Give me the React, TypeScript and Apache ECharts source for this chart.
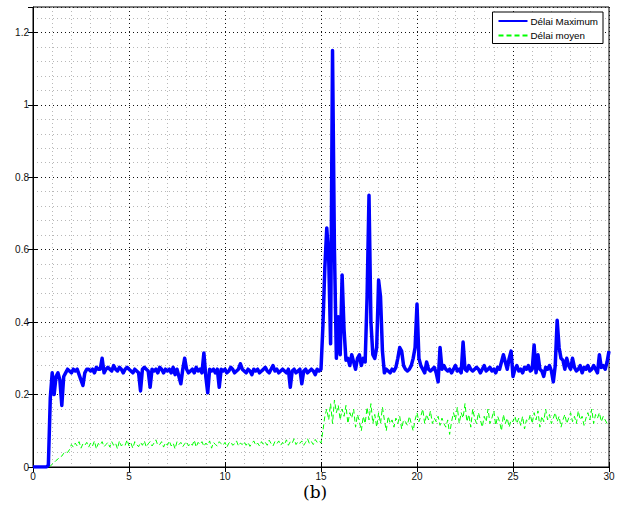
import React, { useEffect, useRef } from "react";
import * as echarts from "echarts";

// sampling step of the recorded series (seconds)
const STEP = 0.1;

const xTicks = [0, 5, 10, 15, 20, 25, 30];
const yTicks = [0, 0.2, 0.4, 0.6, 0.8, 1, 1.2];

// Délai Maximum, one row per second (x = 0.0 .. 29.9), plus final value at 30
const delaiMax: number[] = [
  0, 0, 0, 0, 0, 0, 0, 0, 0.005, 0.19,
  0.26, 0.2, 0.25, 0.26, 0.24, 0.17, 0.25, 0.26, 0.27, 0.265,
  0.26, 0.27, 0.265, 0.27, 0.255, 0.24, 0.225, 0.26, 0.27, 0.27,
  0.265, 0.27, 0.26, 0.275, 0.27, 0.27, 0.3, 0.26, 0.27, 0.275,
  0.27, 0.265, 0.28, 0.27, 0.265, 0.275, 0.27, 0.26, 0.27, 0.275,
  0.27, 0.265, 0.26, 0.27, 0.265, 0.26, 0.21, 0.27, 0.275, 0.27,
  0.265, 0.22, 0.27, 0.265, 0.27, 0.26, 0.275, 0.27, 0.26, 0.27,
  0.265, 0.27, 0.26, 0.275, 0.255, 0.27, 0.25, 0.23, 0.27, 0.3,
  0.27, 0.26, 0.265, 0.27, 0.26, 0.275, 0.265, 0.27, 0.26, 0.315,
  0.25, 0.205, 0.27, 0.265, 0.27, 0.26, 0.27, 0.22, 0.27, 0.265,
  0.27, 0.26, 0.265, 0.275, 0.27, 0.26, 0.265, 0.27, 0.285, 0.27,
  0.265, 0.26, 0.27, 0.265, 0.255, 0.27, 0.265, 0.27, 0.26, 0.265,
  0.27, 0.275, 0.265, 0.26, 0.27, 0.28, 0.265, 0.27, 0.26, 0.265,
  0.27, 0.265, 0.26, 0.27, 0.22, 0.265, 0.27, 0.26, 0.265, 0.27,
  0.23, 0.265, 0.27, 0.26, 0.265, 0.27, 0.265, 0.255, 0.27, 0.265,
  0.27, 0.39, 0.55, 0.66, 0.58, 0.34, 1.15, 0.6, 0.3, 0.415,
  0.31, 0.53, 0.38, 0.295, 0.3, 0.28, 0.31, 0.29, 0.27, 0.3,
  0.31, 0.28, 0.3, 0.29, 0.47, 0.75, 0.4, 0.31, 0.3, 0.33,
  0.516, 0.47, 0.32, 0.26, 0.27, 0.265, 0.26, 0.27, 0.265, 0.275,
  0.3, 0.33, 0.32, 0.28, 0.27, 0.265, 0.27, 0.28, 0.3, 0.33,
  0.45, 0.3, 0.28, 0.27, 0.26, 0.29, 0.27, 0.265, 0.27, 0.275,
  0.26, 0.235, 0.33, 0.27, 0.28, 0.27, 0.265, 0.27, 0.26, 0.27,
  0.28, 0.265, 0.27, 0.26, 0.345, 0.27, 0.265, 0.28, 0.27, 0.265,
  0.27, 0.275, 0.27, 0.26, 0.27, 0.28, 0.265, 0.27, 0.275, 0.265,
  0.27, 0.26, 0.275, 0.27, 0.29, 0.31, 0.29, 0.27, 0.3, 0.32,
  0.25, 0.27, 0.28, 0.265, 0.27, 0.26, 0.275, 0.27, 0.28, 0.265,
  0.27, 0.337, 0.26, 0.31, 0.27, 0.265, 0.25, 0.275, 0.27, 0.28,
  0.265, 0.235, 0.28, 0.405, 0.33, 0.3, 0.295, 0.27, 0.3, 0.28,
  0.27, 0.3, 0.275, 0.265, 0.27, 0.28, 0.26, 0.275, 0.27, 0.28,
  0.265, 0.27, 0.28, 0.27, 0.26, 0.31, 0.275, 0.28, 0.27, 0.29,
  0.32,
];

// Délai moyen
const delaiMoyen: number[] = [
  0, 0, 0, 0, 0, 0, 0, 0, 0, 0.002,
  0.008, 0.012, 0.018, 0.022, 0.028, 0.03, 0.038, 0.042, 0.04, 0.048,
  0.062, 0.055, 0.066, 0.058, 0.07, 0.052, 0.064, 0.06, 0.068, 0.055,
  0.066, 0.058, 0.072, 0.05, 0.065, 0.06, 0.07, 0.056, 0.062, 0.068,
  0.055, 0.07, 0.06, 0.066, 0.05, 0.072, 0.058, 0.064, 0.06, 0.075,
  0.058, 0.066, 0.052, 0.07, 0.062, 0.056, 0.068, 0.06, 0.072, 0.055,
  0.064, 0.07, 0.058, 0.066, 0.075, 0.06, 0.062, 0.07, 0.055, 0.067,
  0.06, 0.072, 0.058, 0.066, 0.05, 0.07, 0.062, 0.068, 0.056, 0.064,
  0.07, 0.058, 0.066, 0.06, 0.074, 0.055, 0.068, 0.062, 0.07, 0.057,
  0.066, 0.06, 0.072, 0.052, 0.068, 0.062, 0.058, 0.07, 0.064, 0.06,
  0.068, 0.055, 0.066, 0.07, 0.06, 0.064, 0.072, 0.058, 0.066, 0.062,
  0.07, 0.06, 0.068, 0.057, 0.065, 0.072, 0.06, 0.066, 0.058, 0.07,
  0.062, 0.068, 0.06, 0.074, 0.065, 0.058, 0.07, 0.064, 0.072, 0.06,
  0.068, 0.062, 0.075, 0.06, 0.07, 0.066, 0.078, 0.062, 0.07, 0.065,
  0.072, 0.06, 0.068, 0.078, 0.064, 0.07, 0.062, 0.076, 0.068, 0.072,
  0.066, 0.1, 0.14, 0.16, 0.13, 0.175, 0.12, 0.185, 0.15, 0.17,
  0.13, 0.16, 0.14, 0.17, 0.12, 0.15, 0.135, 0.16, 0.11, 0.145,
  0.125, 0.1, 0.14, 0.12, 0.165, 0.13, 0.175, 0.12, 0.145, 0.11,
  0.15, 0.12, 0.165, 0.13, 0.1, 0.14, 0.12, 0.13, 0.11, 0.135,
  0.12, 0.14, 0.105, 0.13, 0.125, 0.115, 0.14, 0.12, 0.1, 0.13,
  0.15, 0.125, 0.14, 0.16, 0.12, 0.145, 0.13, 0.155, 0.12, 0.135,
  0.125, 0.14, 0.115, 0.135, 0.12, 0.11, 0.13, 0.09, 0.125, 0.15,
  0.13, 0.165, 0.12, 0.15, 0.135, 0.175, 0.125, 0.145, 0.11, 0.16,
  0.135, 0.12, 0.15, 0.13, 0.11, 0.14, 0.125, 0.16, 0.12, 0.135,
  0.155, 0.115, 0.14, 0.125, 0.1, 0.145, 0.12, 0.135, 0.11, 0.13,
  0.125, 0.14, 0.12, 0.135, 0.115, 0.14, 0.105, 0.13, 0.125, 0.145,
  0.12, 0.15, 0.13, 0.155, 0.11, 0.14, 0.125, 0.16, 0.13, 0.145,
  0.12, 0.135, 0.15, 0.125, 0.14, 0.11, 0.13, 0.145, 0.12, 0.135,
  0.15, 0.125, 0.14, 0.12, 0.155, 0.13, 0.14, 0.115, 0.135, 0.15,
  0.13, 0.16, 0.12, 0.145, 0.135, 0.15, 0.125, 0.14, 0.13, 0.12,
  0.125,
];

const seriesNames = ["Délai Maximum", "Délai moyen"];
const caption = "(b)";

const toPairs = (vals: number[]) =>
  vals.map((v, i) => [Math.round(i * STEP * 10) / 10, v]);

export default function App() {
  const ref = useRef<HTMLDivElement>(null);
  useEffect(() => {
    if (!ref.current) return;
    const chart = echarts.init(ref.current, undefined, { renderer: "svg" });
    const font = "'Liberation Sans', Arial, Helvetica, sans-serif";
    const xMin = xTicks[0];
    const xMax = xTicks[xTicks.length - 1];
    const yMax = 1.27;
    chart.setOption({
      animation: false,
      backgroundColor: "#fff",
      grid: {
        left: 33,
        right: 22,
        top: 7,
        bottom: 38,
        show: true,
        borderColor: "#000",
        borderWidth: 1,
        backgroundColor: "transparent",
      },
      legend: {
        data: seriesNames,
        orient: "vertical",
        right: 28,
        top: 12,
        padding: [4, 5, 3, 5],
        itemGap: 4.5,
        itemWidth: 29,
        itemHeight: 8,
        backgroundColor: "#fff",
        borderColor: "#000",
        borderWidth: 1,
        borderRadius: 0,
        itemStyle: { opacity: 0 },
        textStyle: { fontFamily: font, fontSize: 9.8, color: "#000", padding: [0, 0, 0, -2] },
        z: 10,
      },
      xAxis: [
        {
          type: "value",
          min: xMin,
          max: xMax,
          interval: 5,
          position: "bottom",
          z: 2,
          axisLine: { show: true, lineStyle: { color: "#000", width: 1 } },
          axisTick: { show: true, inside: true, length: 5, lineStyle: { color: "#000" } },
          axisLabel: { fontFamily: font, fontSize: 10, color: "#111", margin: 4 },
          splitLine: { show: true, lineStyle: { color: "#111", type: [1, 3], width: 1 } },
        },
        {
          type: "value",
          min: xMin,
          max: xMax,
          interval: 1,
          position: "bottom",
          z: 1,
          axisLine: { show: false },
          axisTick: { show: false },
          axisLabel: { show: false },
          splitLine: { show: true, lineStyle: { color: "#b8b8b8", type: [1, 3], width: 1 } },
        },
        {
          type: "value",
          min: xMin,
          max: xMax,
          interval: 5,
          position: "top",
          z: 2,
          axisLine: { show: false },
          axisTick: { show: true, inside: true, length: 5, lineStyle: { color: "#000" } },
          axisLabel: { show: false },
          splitLine: { show: false },
        },
      ],
      yAxis: [
        {
          type: "value",
          min: 0,
          max: yMax,
          interval: 0.2,
          position: "left",
          z: 2,
          axisLine: { show: true, lineStyle: { color: "#000", width: 1 } },
          axisTick: { show: true, inside: true, length: 5, lineStyle: { color: "#000" } },
          axisLabel: {
            fontFamily: font,
            fontSize: 10,
            color: "#111",
            margin: 4,
            showMaxLabel: false,
            formatter: (v: number) =>
              yTicks.some((t) => Math.abs(t - v) < 1e-6) ? String(Math.round(v * 10) / 10) : "",
          },
          splitLine: { show: true, lineStyle: { color: "#111", type: [1, 3], width: 1 } },
        },
        {
          type: "value",
          min: 0,
          max: yMax,
          interval: 0.04,
          position: "left",
          z: 1,
          axisLine: { show: false },
          axisTick: { show: false },
          axisLabel: { show: false },
          splitLine: { show: true, lineStyle: { color: "#b8b8b8", type: [1, 3], width: 1 } },
        },
        {
          type: "value",
          min: 0,
          max: yMax,
          interval: 0.2,
          position: "right",
          z: 2,
          axisLine: { show: false },
          axisTick: { show: true, inside: true, length: 5, lineStyle: { color: "#000" } },
          axisLabel: { show: false },
          splitLine: { show: false },
        },
      ],
      series: [
        {
          name: seriesNames[0],
          type: "line",
          data: toPairs(delaiMax),
          showSymbol: false,
          symbol: "none",
          z: 4,
          color: "#0000ff",
          lineStyle: { color: "#0000ff", width: 3.5, join: "round" },
        },
        {
          name: seriesNames[1],
          type: "line",
          data: toPairs(delaiMoyen),
          showSymbol: false,
          symbol: "none",
          z: 3,
          color: "#00ff00",
          lineStyle: { color: "#00ff00", width: 1, type: [5, 3] },
        },
      ],
      graphic: [
        {
          type: "text",
          left: 303,
          top: 483,
          style: {
            text: caption,
            fontFamily: "'DejaVu Serif', 'Liberation Serif', serif",
            fontSize: 17,
            fill: "#000",
          },
        },
      ],
    });
    return () => chart.dispose();
  }, []);
  return <div ref={ref} style={{ width: 631, height: 505, position: "absolute", left: 0, top: 0 }} />;
}
